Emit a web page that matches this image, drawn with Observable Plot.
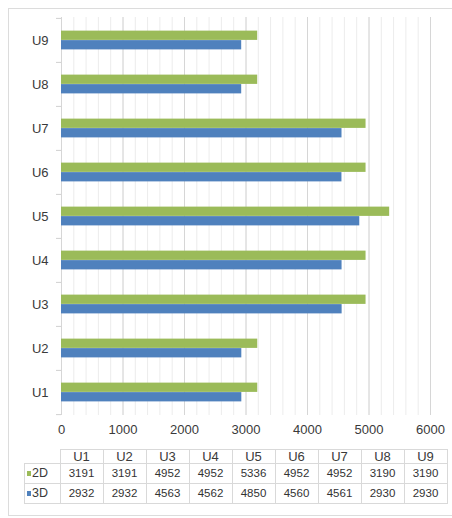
<!DOCTYPE html>
<html>
<head>
<meta charset="utf-8">
<script src="https://cdn.jsdelivr.net/npm/d3@7"></script>
<script src="https://cdn.jsdelivr.net/npm/@observablehq/plot@0.6"></script>
<style>
  body { margin: 0; background: #fff; font-family: "Liberation Sans", Arial, sans-serif; }
  #wrap { position: relative; width: 452px; height: 518px; overflow: hidden; }
  #frame { position: absolute; left: 8px; top: 8px; width: 470px; height: 508px; border: 1px solid #dcdcdc; box-sizing: border-box; }
  #chart { position: absolute; left: 0; top: 0; }
  #chart svg { display: block; }
  #table { position: absolute; left: 24px; top: 449px; }
  table { border-collapse: collapse; color: #333; }
  td, th { border: 1px solid #d9d9d9; padding: 0; text-align: center; }
  th { font-weight: normal; font-size: 13px; height: 13px; line-height: 13px; width: 42px; color: #3a3a3a; }
  th.blank { border: none; width: 35px; }
  td { font-size: 11.5px; height: 19px; line-height: 19px; }
  td.lab { text-align: left; font-size: 12.5px; padding-left: 2px; color: #3a3a3a; }
  .sw { display: inline-block; width: 4px; height: 5px; margin-right: 1px; vertical-align: 1px; }
</style>
</head>
<body>
<div id="wrap">
  <div id="frame"></div>
  <div id="chart"></div>
  <div id="table"></div>
</div>
<script>
// Units along the vertical axis, bottom to top
const units = ["U1", "U2", "U3", "U4", "U5", "U6", "U7", "U8", "U9"];
// Series names and their values per unit
const seriesNames = ["2D", "3D"];
const values2D = [3191, 3191, 4952, 4952, 5336, 4952, 4952, 3190, 3190];
const values3D = [2932, 2932, 4563, 4562, 4850, 4560, 4561, 2930, 2930];
const seriesColors = ["#9bbb59", "#4f81bd"];
// Value axis ticks
const xTicks = [0, 1000, 2000, 3000, 4000, 5000, 6000];
const xMinorTicks = d3.range(0, 6001, 200);

const width = 452, height = 440;
const marginTop = 17, marginBottom = 25, marginLeft = 61, marginRight = 22;
const band = (height - marginTop - marginBottom) / units.length;
const barH = 9.5;
const inset = (band - barH) / 2;

const rows = units.map((u, i) => ({unit: u, v2: values2D[i], v3: values3D[i]}));

const chart = Plot.plot({
  width, height, marginTop, marginBottom, marginLeft, marginRight,
  style: {color: "#3a3a3a", fontSize: "13px", fontFamily: "'Liberation Sans', Arial, sans-serif", background: "transparent"},
  x: {domain: [0, 6000], label: null},
  y: {domain: units.slice().reverse(), padding: 0, label: null},
  marks: [
    Plot.gridX(xMinorTicks, {stroke: "#ececec", strokeOpacity: 1}),
    Plot.gridX(xTicks, {stroke: "#d6d6d6", strokeOpacity: 1}),
    // category boundary ticks on the left of the axis
    Plot.ruleY(units, {y: d => d, dy: -band / 2, x1: 0, x2: 0, insetLeft: -5, stroke: "#d0d0d0"}),
    Plot.ruleY(units.slice(0, 1), {y: d => d, dy: band / 2, x1: 0, x2: 0, insetLeft: -5, stroke: "#d0d0d0"}),
    Plot.barX(rows, {y: "unit", x1: 0, x2: "v2", fill: seriesColors[0], insetTop: inset, insetBottom: inset, dy: -barH / 2}),
    Plot.barX(rows, {y: "unit", x1: 0, x2: "v3", fill: seriesColors[1], insetTop: inset, insetBottom: inset, dy: barH / 2}),
    Plot.axisY({tickSize: 0, tickPadding: 13, fontSize: 13, label: null}),
    Plot.axisX(xTicks, {tickSize: 0, tickPadding: 9, tickFormat: d => String(d), fontSize: 13, label: null})
  ]
});
document.getElementById("chart").appendChild(chart);

// Data table under the chart
const table = d3.select("#table").append("table");
const head = table.append("tr");
head.append("th").attr("class", "blank");
units.forEach(u => head.append("th").text(u));
[values2D, values3D].forEach((vals, s) => {
  const tr = table.append("tr");
  const lab = tr.append("td").attr("class", "lab");
  lab.append("span").attr("class", "sw").style("background", seriesColors[s]);
  lab.append("span").text(seriesNames[s]);
  vals.forEach(v => tr.append("td").text(v));
});
</script>
</body>
</html>
